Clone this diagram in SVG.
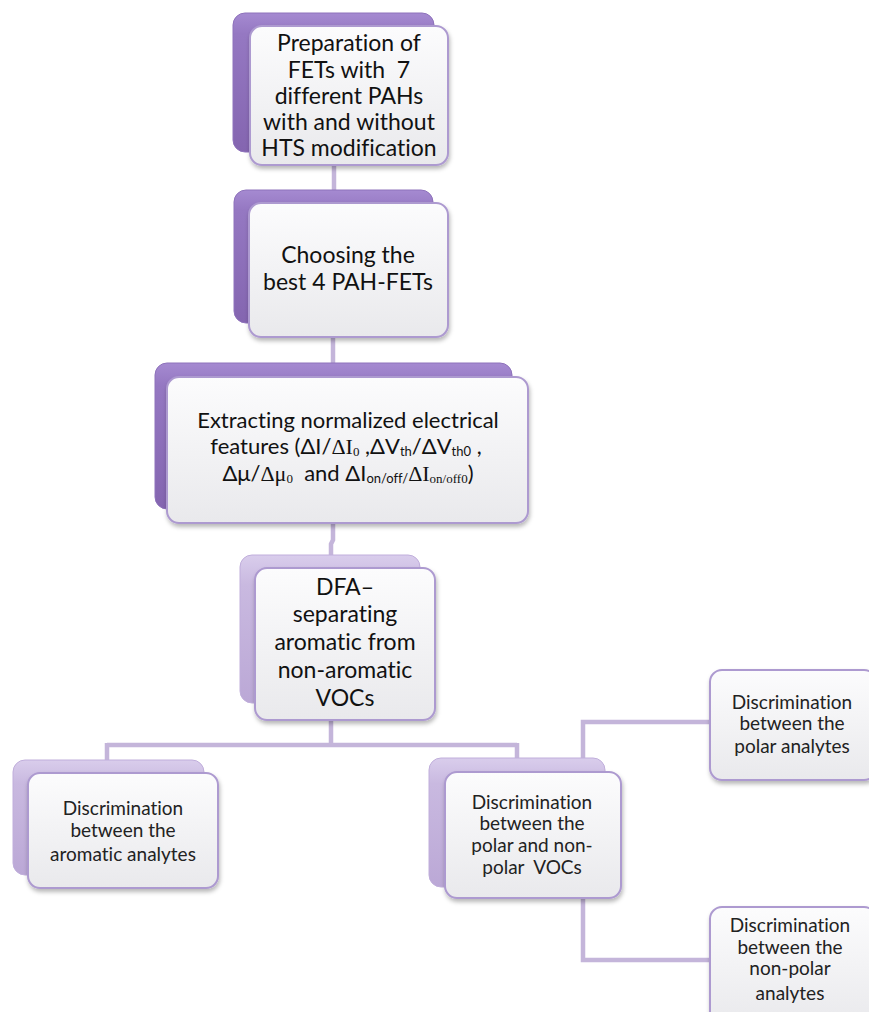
<svg xmlns="http://www.w3.org/2000/svg" width="869" height="1012" viewBox="0 0 869 1012">
<defs>
<linearGradient id="gBackDark" x1="0" y1="0" x2="0" y2="1">
<stop offset="0" stop-color="#a58ad1"/>
<stop offset="0.15" stop-color="#9578c2"/>
<stop offset="1" stop-color="#8465b0"/>
</linearGradient>
<linearGradient id="gBackLight" x1="0" y1="0" x2="0" y2="1">
<stop offset="0" stop-color="#d9cdec"/>
<stop offset="0.2" stop-color="#c9b9e0"/>
<stop offset="1" stop-color="#bba8d6"/>
</linearGradient>
<linearGradient id="gFront" x1="0" y1="0" x2="0" y2="1">
<stop offset="0" stop-color="#fcfcfd"/>
<stop offset="1" stop-color="#e9e9ec"/>
</linearGradient>
<filter id="sh" x="-10%" y="-10%" width="125%" height="130%">
<feDropShadow dx="1" dy="3" stdDeviation="2" flood-color="#000" flood-opacity="0.28"/>
</filter>
</defs>
<style>
.bd{fill:url(#gBackDark);stroke:#8e72bb;stroke-width:1}
.bl{fill:url(#gBackLight);stroke:#c0aedb;stroke-width:1}
.fr{fill:url(#gFront);stroke:#ad9ad0;stroke-width:2;filter:url(#sh)}
.t{font-family:Lato,"Liberation Sans",sans-serif;fill:#111;text-anchor:middle;font-variant-ligatures:none;white-space:pre}
.tb{font-size:23px}
.tm{font-size:22px}
.ts{font-size:19px;fill:#222}
.sr{font-family:"Liberation Serif",serif}
.cn{fill:none;stroke:#c4b5da;stroke-width:4.5}
</style>
<g id="connectors">
<path class="cn" d="M334 160 V195"/>
<path class="cn" d="M333 330 V370"/>
<path class="cn" d="M333 515 V540 L331 544 V560"/>
<path class="cn" d="M331 715 V745 M107 745 H517 M107 743 V765 M517 743 V765"/>
<path class="cn" d="M583 775 V722 H712"/>
<path class="cn" d="M583 893 V960 H712"/>
</g>
<g id="n1">
<rect class="bd" x="233" y="13" width="201" height="139" rx="12"/>
<rect class="fr" x="250" y="26" width="198" height="139" rx="12"/>
<text class="t tb" x="349" y="51">Preparation of</text>
<text class="t tb" x="349" y="78">FETs with  7</text>
<text class="t tb" x="349" y="104">different PAHs</text>
<text class="t tb" x="349" y="130">with and without</text>
<text class="t tb" x="349" y="156">HTS modification</text>
</g>
<g id="n2">
<rect class="bd" x="234" y="190" width="199" height="133" rx="12"/>
<rect class="fr" x="249" y="203" width="199" height="134" rx="12"/>
<text class="t tb" x="348" y="263">Choosing the</text>
<text class="t tb" x="348" y="290">best 4 PAH-FETs</text>
</g>
<g id="n3">
<rect class="bd" x="155" y="363" width="357" height="146" rx="12"/>
<rect class="fr" x="167" y="377" width="361" height="146" rx="12"/>
<text class="t tm" x="348" y="428">Extracting normalized electrical</text>
<text class="t tm" x="346" y="454">features (ΔI/<tspan class="sr">ΔI</tspan><tspan class="sr" font-size="13" dy="2">0</tspan><tspan dy="-2"> ,ΔV</tspan><tspan font-size="13" dy="2">th</tspan><tspan dy="-2">/ΔV</tspan><tspan font-size="13" dy="2">th0</tspan><tspan dy="-2"> ,</tspan></text>
<text class="t tm" x="348" y="481">Δμ/<tspan class="sr">Δμ</tspan><tspan class="sr" font-size="13" dy="2">0</tspan><tspan dy="-2">  and ΔI</tspan><tspan font-size="13" dy="2">on/off/</tspan><tspan class="sr" dy="-2">ΔI</tspan><tspan class="sr" font-size="13" dy="2">on/off0</tspan><tspan dy="-2">)</tspan></text>
</g>
<g id="n4">
<rect class="bl" x="240" y="555" width="180" height="148" rx="12"/>
<rect class="fr" x="255" y="568" width="180" height="152" rx="12"/>
<text class="t tb" x="345" y="595">DFA–</text>
<text class="t tb" x="345" y="622">separating</text>
<text class="t tb" x="345" y="650">aromatic from</text>
<text class="t tb" x="345" y="678">non-aromatic</text>
<text class="t tb" x="345" y="706">VOCs</text>
</g>
<g id="n5">
<rect class="bl" x="13" y="760" width="191" height="115" rx="12"/>
<rect class="fr" x="28" y="773" width="190" height="115" rx="12"/>
<text class="t ts" x="123" y="815">Discrimination</text>
<text class="t ts" x="123" y="837">between the</text>
<text class="t ts" x="123" y="861">aromatic analytes</text>
</g>
<g id="n6">
<rect class="bl" x="429" y="758" width="176" height="129" rx="12"/>
<rect class="fr" x="445" y="772" width="176" height="126" rx="12"/>
<text class="t ts" x="532" y="809">Discrimination</text>
<text class="t ts" x="532" y="830">between the</text>
<text class="t ts" x="532" y="852">polar and non-</text>
<text class="t ts" x="532" y="874">polar  VOCs</text>
</g>
<g id="n7">
<rect class="fr" x="710" y="670" width="166" height="110" rx="12"/>
<text class="t ts" x="792" y="709">Discrimination</text>
<text class="t ts" x="792" y="730">between the</text>
<text class="t ts" x="792" y="753">polar analytes</text>
</g>
<g id="n8">
<rect class="fr" x="710" y="907" width="166" height="120" rx="12"/>
<text class="t ts" x="790" y="932">Discrimination</text>
<text class="t ts" x="790" y="954">between the</text>
<text class="t ts" x="790" y="975">non-polar</text>
<text class="t ts" x="790" y="1000">analytes</text>
</g>
</svg>
